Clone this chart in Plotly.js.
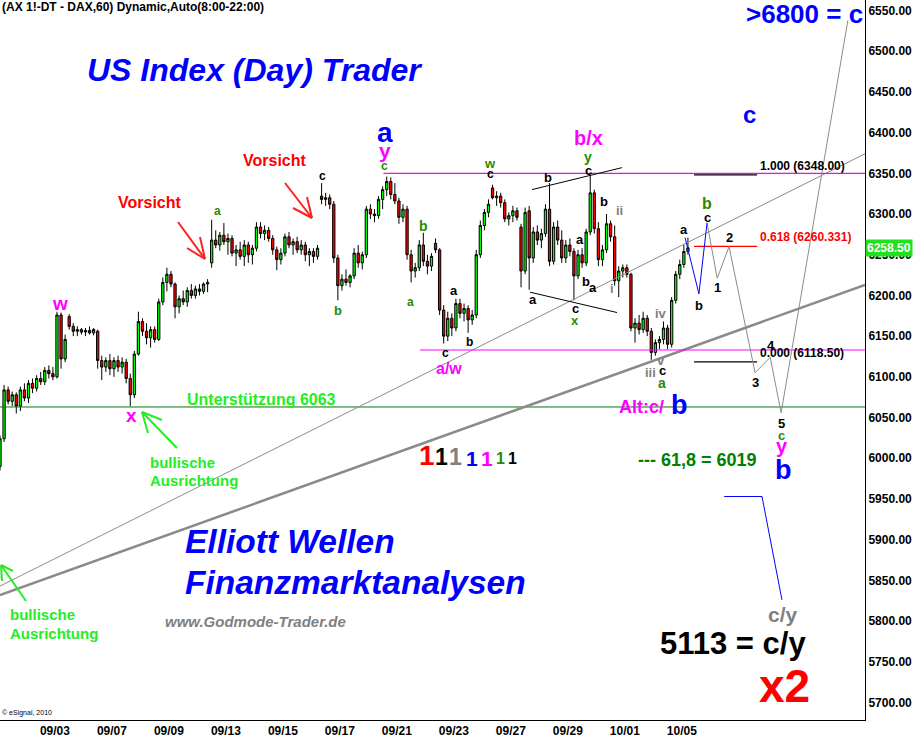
<!DOCTYPE html>
<html><head><meta charset="utf-8">
<script src="https://cdn.plot.ly/plotly-3.0.1.min.js"></script>
<style>html,body{margin:0;padding:0;background:#fff;}#chart{width:913px;height:737px;}</style>
</head><body><div id="chart"></div>
<script>
// ---- data ----
const dates = ['09/01','09/02','09/03','09/06','09/07','09/08','09/09','09/10','09/13','09/14','09/15','09/16','09/17','09/20','09/21','09/22','09/23','09/24','09/27','09/28','09/29','09/30','10/01','10/04','10/05'];
const labeledDates = ['09/03','09/07','09/09','09/13','09/15','09/17','09/21','09/23','09/27','09/29','10/01','10/05'];
const barsPerDay = 7;
const open = [5990,6024,6084,6070,6078,6064,6084,6074,6092,6086,6098,6094,6108,6104,6100,6176,6122,6174,6162,6156,6158,6155,6157,6154,6156,6120,6112,6120,6110,6120,6112,6118,6098,6078,6128,6168,6156,6148,6158,6146,6192,6216,6226,6214,6186,6196,6192,6206,6200,6208,6205,6214,6240,6268,6262,6274,6266,6270,6252,6256,6248,6262,6250,6258,6284,6276,6280,6270,6256,6244,6252,6272,6262,6266,6256,6262,6250,6254,6248,6322,6318,6320,6312,6246,6212,6220,6216,6224,6252,6240,6250,6306,6300,6298,6318,6330,6340,6324,6316,6296,6306,6250,6230,6234,6262,6242,6236,6264,6256,6182,6150,6172,6160,6190,6178,6184,6170,6176,6250,6286,6302,6332,6320,6322,6314,6294,6298,6304,6284,6230,6304,6246,6278,6268,6276,6306,6242,6284,6268,6246,6262,6254,6224,6250,6240,6278,6326,6282,6244,6256,6288,6272,6218,6230,6234,6226,6160,6166,6158,6172,6156,6130,6142,6146,6160,6140,6194,6226,6238,6254];
const high = [6028,6090,6088,6082,6081,6088,6092,6096,6098,6102,6106,6112,6114,6112,6180,6179,6152,6177,6166,6162,6160,6160,6162,6160,6158,6126,6124,6128,6124,6126,6124,6122,6104,6132,6180,6172,6166,6162,6162,6196,6222,6234,6230,6216,6200,6206,6210,6214,6212,6214,6216,6220,6293,6280,6278,6289,6276,6274,6262,6266,6268,6266,6262,6290,6290,6286,6284,6274,6260,6258,6276,6278,6270,6272,6268,6266,6258,6258,6262,6338,6326,6324,6316,6250,6226,6232,6226,6258,6262,6254,6310,6312,6306,6322,6334,6346,6345,6338,6320,6312,6310,6256,6240,6268,6277,6250,6252,6270,6258,6188,6180,6178,6196,6196,6190,6188,6182,6256,6292,6306,6318,6336,6328,6326,6318,6302,6310,6308,6288,6308,6310,6284,6286,6282,6312,6338,6290,6292,6280,6268,6270,6258,6256,6258,6282,6348,6330,6290,6262,6300,6292,6286,6236,6238,6238,6228,6172,6176,6180,6176,6160,6146,6150,6168,6164,6198,6230,6244,6262,6271];
const low = [5985,6020,6066,6064,6055,6058,6070,6068,6080,6082,6090,6090,6098,6096,6098,6110,6118,6158,6150,6150,6152,6150,6152,6151,6110,6096,6106,6102,6100,6106,6104,6092,6064,6074,6126,6150,6140,6136,6142,6144,6188,6205,6210,6172,6178,6188,6186,6196,6196,6200,6202,6204,6234,6258,6255,6262,6250,6248,6236,6244,6236,6240,6238,6254,6270,6268,6266,6250,6231,6238,6248,6258,6250,6252,6250,6242,6236,6240,6244,6312,6310,6306,6240,6194,6206,6212,6210,6220,6234,6232,6246,6294,6290,6294,6306,6322,6318,6312,6288,6290,6244,6216,6222,6230,6236,6226,6230,6252,6176,6141,6144,6150,6156,6172,6168,6154,6164,6172,6246,6280,6296,6318,6310,6308,6290,6286,6290,6292,6210,6226,6207,6240,6262,6258,6272,6236,6238,6262,6240,6240,6248,6194,6220,6234,6236,6274,6276,6236,6236,6252,6266,6212,6198,6222,6222,6156,6142,6152,6154,6150,6121,6126,6134,6140,6134,6136,6190,6220,6234,6250];
const close = [6024,6084,6070,6078,6064,6084,6074,6092,6086,6098,6094,6108,6104,6100,6176,6122,6146,6162,6156,6158,6155,6157,6154,6158,6120,6112,6120,6110,6120,6112,6118,6098,6078,6128,6168,6156,6148,6158,6146,6192,6216,6226,6214,6186,6196,6192,6206,6200,6208,6205,6214,6216,6268,6262,6274,6266,6270,6252,6256,6248,6262,6250,6258,6284,6276,6280,6270,6256,6244,6252,6272,6262,6266,6256,6262,6250,6254,6248,6258,6318,6320,6312,6246,6212,6220,6216,6224,6252,6240,6250,6306,6300,6298,6318,6330,6340,6324,6316,6296,6306,6250,6230,6234,6262,6242,6236,6248,6256,6182,6150,6172,6160,6190,6178,6184,6170,6176,6250,6286,6302,6312,6320,6322,6314,6294,6298,6304,6296,6230,6302,6246,6278,6268,6276,6306,6242,6284,6268,6246,6262,6254,6224,6250,6240,6278,6326,6282,6244,6256,6288,6272,6218,6230,6234,6226,6160,6166,6158,6172,6156,6130,6142,6146,6160,6140,6194,6226,6238,6254,6258.5];
const lastPrice = 6258.5;

// drawn lines (bar index, price)
const projBlueX = [168.3, 171.7, 173.7];          const projBlueY = [6271, 6202, 6289];
const projGrayX = [173.7, 176.2, 179.1, 185.5, 189.2, 191.9, 208.3];
const projGrayY = [6289, 6221, 6260, 6105, 6124, 6056, 6538];
const targetBlueX = [177.9, 187.2, 192.1];        const targetBlueY = [5953, 5953, 5826];
const thinTrendX = [0, 212.5];  const thinTrendY = [5843, 6374];
const thickTrendX = [0, 212.5]; const thickTrendY = [5832, 6213];
const chanUpX = [130.7, 152.8]; const chanUpY = [6330, 6357];
const chanLoX = [130.2, 151.6]; const chanLoY = [6204, 6179];
const magTopX = [94.2, 212.5];  const magTop = 6350;
const magBotX = [103.2, 212.5]; const magBot = 6133;
const supportX = [0, 212.5];    const support = 6063;
const fibX = [170.5, 186];
const fibLevels = [6348.00, 6260.331, 6118.50];
const fibRatios = ['1.000', '0.618', '0.000'];

// ---- build ----
const idx = open.map((_, i) => i);
const tickvals = labeledDates.map(d => dates.indexOf(d) * barsPerDay - 0.5);
const F = 'Liberation Sans, Arial, sans-serif';
const traces = [];
function line(x, y, color, width, dash) {
  traces.push({type:'scatter', mode:'lines', x, y, line:{color, width, dash: dash || 'solid'}, hoverinfo:'skip'});
}
line(supportX, [support, support], '#007a00', 1);
line(thinTrendX, thinTrendY, '#8c8c8c', 1);
line(thickTrendX, thickTrendY, '#8a8a8a', 2.5);
line(magTopX, [magTop, magTop], '#ff00ff', 1.2);
line(magBotX, [magBot, magBot], '#ff00ff', 1.2);
line(chanUpX, chanUpY, '#000', 1);
line(chanLoX, chanLoY, '#000', 1);
fibLevels.forEach((v, i) => line(fibX, [v, v], i === 1 ? '#ff0000' : '#000', 1.3));
line(projGrayX, projGrayY, '#8c8c8c', 1);
line(projBlueX, projBlueY, '#0000ff', 1);
line(targetBlueX, targetBlueY, '#0000ff', 1);
traces.push({type:'candlestick', x: idx, open, high, low, close,
  increasing:{line:{color:'#000', width:1}, fillcolor:'#00ff00'},
  decreasing:{line:{color:'#000', width:1}, fillcolor:'#ff0000'},
  whiskerwidth:0, hoverinfo:'skip'});

const W = 865, H = 720;
const ann = [];
function T(text, x, y, color, size, o) {
  o = o || {};
  ann.push({text, xref:'paper', yref:'paper', x: x / W, y: 1 - y / H,
    xanchor: o.xa || 'center', yanchor: 'middle', showarrow:false,
    font:{family:F, size, color, weight: o.normal ? 'normal' : 'bold', style: o.italic ? 'italic' : 'normal'}});
}
const GR = '#2a8a00', MG = '#ff00ff', BL = '#0000ff', GY = '#808080', LM = '#22ee22';
T('(AX 1!-DT - DAX,60) Dynamic,Auto(8:00-22:00)', 0, 7, '#000', 12, {xa:'left'});
T('US Index (Day) Trader', 254, 70, BL, 32, {italic:true});
T('Vorsicht', 150, 202, '#ff0000', 16);
T('Vorsicht', 275, 160, '#ff0000', 16);
T('c', 322, 176, '#000', 12);
T('a', 217, 211, GR, 12);
T('b', 338, 310, GR, 13);
T('a', 385, 132, BL, 28);
T('y', 385, 150, MG, 21);
T('c', 384, 166, GR, 12);
T('b', 423, 226, GR, 14);
T('a', 410, 302, GR, 12);
T('a', 454, 290, '#000', 13);
T('b', 470, 342, '#000', 12);
T('c', 446, 353, '#000', 12);
T('a/w', 449, 368, MG, 16);
T('w', 490, 164, GR, 13);
T('c', 490, 174, '#000', 12);
T('b', 548, 177, '#000', 13);
T('a', 533, 299, '#000', 13);
T('c', 575, 308, '#000', 13);
T('x', 575, 320, GR, 13);
T('a', 580, 240, '#000', 13);
T('b', 586, 282, '#000', 13);
T('a', 593, 287, '#000', 13);
T('b/x', 588, 138, MG, 20);
T('y', 588, 157, GR, 14);
T('c', 588, 170, '#000', 13);
T('b', 604, 201, '#000', 13);
T('ii', 619, 210, GY, 13);
T('i', 612, 288, GY, 13);
T('iv', 661, 313, GY, 13);
T('iii', 650, 372, GY, 13);
T('v', 661, 360, GY, 13);
T('c', 662, 371, '#000', 13);
T('a', 662, 383, GR, 14);
T('a', 684, 229, '#000', 13);
T('b', 699, 305, '#000', 13);
T('c', 707, 217, '#000', 13);
T('b', 707, 203, GR, 16);
T('1', 717, 287, '#000', 13);
T('2', 729, 238, '#000', 13);
T('3', 755, 382, '#000', 13);
T('4', 771, 345, '#000', 13);
T('5', 781, 423, '#000', 13);
T('c', 781, 436, GR, 13);
T('y', 782, 446, MG, 20);
T('b', 783, 470, BL, 27);
T('Alt:c/', 666, 407, MG, 18, {xa:'right'});
T('b', 669, 405, BL, 27, {xa:'left'});
T('1', 427, 455, '#ff0000', 28);
T('1', 442, 457, '#000', 23);
T('1', 456, 457, GY, 23);
T('1', 472, 458, BL, 21);
T('1', 487, 458, MG, 21);
T('1', 500, 459, GR, 16);
T('1', 512, 459, '#000', 16);
T('--- 61,8 = 6019', 697, 460, '#008000', 18);
T('w', 60, 303, MG, 19);
T('x', 131, 416, MG, 19);
T('Unterstützung 6063', 185, 399, LM, 16, {xa:'left'});
T('bullische', 148, 462, LM, 15, {xa:'left'});
T('Ausrichtung', 148, 481, LM, 15, {xa:'left'});
T('bullische', 8, 614, LM, 15, {xa:'left'});
T('Ausrichtung', 8, 633, LM, 15, {xa:'left'});
T('Elliott Wellen', 183, 541, BL, 33.5, {xa:'left', italic:true});
T('Finanzmarktanalysen', 183, 582, BL, 33.5, {xa:'left', italic:true});
T('www.Godmode-Trader.de', 163, 621, GY, 15, {xa:'left', italic:true});
T('>6800 = c', 804, 14, BL, 26);
T('c', 749, 114, BL, 24);
T('c/y', 783, 614, GY, 21);
T('5113 = c/y', 733, 643, '#000', 31);
T('x2', 784, 686, '#ff0000', 46);
T('© eSignal, 2010', 0, 713, '#000', 7, {xa:'left', normal:true});
fibLevels.forEach((v, i) => {
  ann.push({text: fibRatios[i] + ' (' + (i === 1 ? v.toFixed(3) : v.toFixed(2)) + ')', xref:'x', yref:'y',
    x: fibX[1], y: v, xanchor:'left', yanchor:'bottom', xshift: 1, showarrow:false,
    font:{family:F, size:12, color: i === 1 ? '#ff0000' : '#000', weight:'bold'}});
});
ann.push({text: lastPrice.toFixed(2), xref:'paper', yref:'y', x:1, y:lastPrice, xanchor:'left', yanchor:'middle',
  showarrow:false, bgcolor:'#1fe11f', borderpad:1, font:{family:F, size:12, color:'#fff', weight:'bold'}});

const shapes = [];
function S(x0, y0, x1, y1, color, w) {
  shapes.push({type:'line', xref:'paper', yref:'paper', x0:x0/W, y0:1-y0/H, x1:x1/W, y1:1-y1/H, line:{color, width:w||2}});
}
function arrow(tx, ty, hx, hy, a1x, a1y, a2x, a2y, color) {
  S(tx, ty, hx, hy, color, 2); S(a1x, a1y, hx, hy, color, 2); S(a2x, a2y, hx, hy, color, 2);
}
arrow(178, 222, 205, 259, 187, 248, 200, 237, '#ff2020');
arrow(285, 183, 312, 218, 293, 208, 307, 197, '#ff2020');
arrow(177, 448, 142, 412, 162, 420, 148, 433, '#22ee22');
arrow(26, 601, 1, 565, 13, 571, 2, 581, '#22ee22');

const layout = {
  width: 913, height: 737, margin:{l:0, r:48, t:0, b:17, pad:0},
  paper_bgcolor:'#fff', plot_bgcolor:'#fff', showlegend:false, boxgap:0.2,
  xaxis:{range:[0, 212.5], tickmode:'array', tickvals, ticktext: labeledDates, showgrid:false, zeroline:false,
    showline:true, linecolor:'#000', linewidth:1, ticks:'', rangeslider:{visible:false}, fixedrange:true,
    tickfont:{family:F, size:12, color:'#000', weight:'bold'}},
  yaxis:{side:'right', range:[5678.5, 6562.9], tick0:5700, dtick:50, tickformat:'.2f', showgrid:false, zeroline:false,
    showline:true, linecolor:'#000', linewidth:1, ticks:'', fixedrange:true,
    tickfont:{family:F, size:12, color:'#000', weight:'bold'}},
  annotations: ann, shapes
};
Plotly.newPlot('chart', traces, layout, {displayModeBar:false, staticPlot:true});
</script></body></html>
